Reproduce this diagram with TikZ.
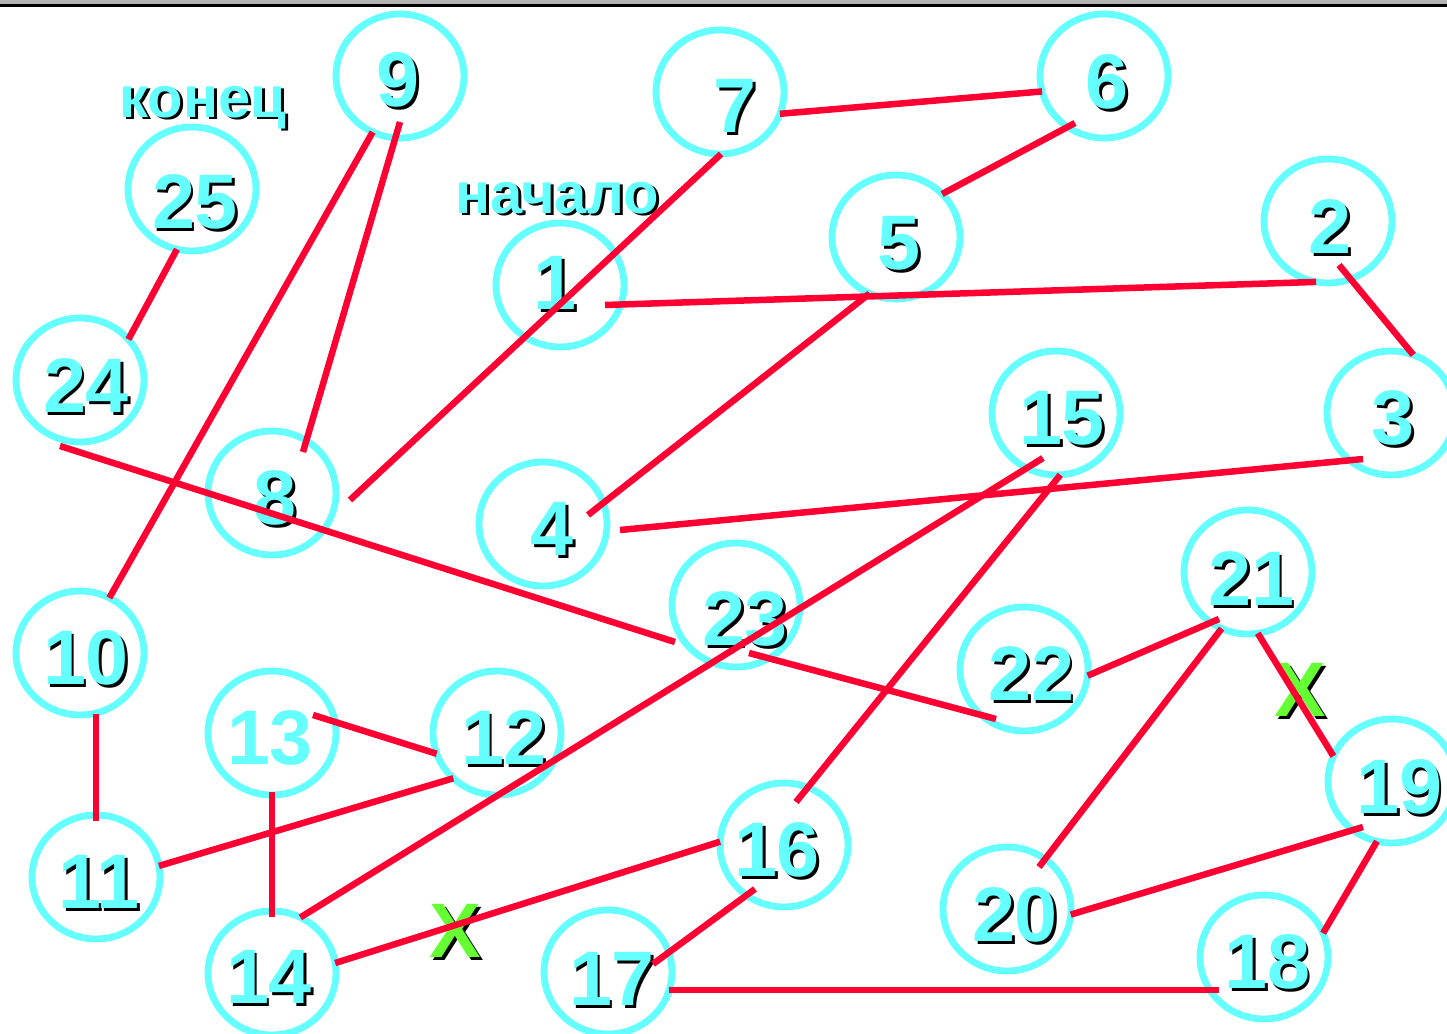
\documentclass[tikz,border=0pt]{standalone}
\usepackage{fontspec}
\setmainfont{Liberation Sans}
\usetikzlibrary{shapes.geometric,calc}
\definecolor{cy}{RGB}{102,255,255}
\definecolor{rd}{RGB}{255,0,51}
\definecolor{gr}{RGB}{102,255,51}
\newcommand{\shtext}[1]{\rlap{\smash{\hspace{1.7pt}\raisebox{-1.7pt}{\color{black}#1}}}#1}
\begin{document}
\begin{tikzpicture}[x=0.02cm, y=-0.02cm]
  \tikzstyle{c}=[draw=cy,ellipse,line width=3.9pt,minimum width=2.56cm,minimum height=2.48cm,inner sep=0pt,outer sep=0pt]
  \tikzstyle{num}=[text=cy,inner sep=0pt,font=\bfseries\fontsize{44}{44}\selectfont]
  \tikzstyle{w}=[text=cy,inner sep=0pt,anchor=base,font=\bfseries\fontsize{33}{33}\selectfont]
  \tikzstyle{xm}=[text=gr,inner sep=0pt,font=\bfseries\fontsize{44}{44}\selectfont]
  \tikzstyle{l}=[draw=rd,line width=3.7pt]
  \useasboundingbox (0,0) rectangle (1447,1034);
  \fill[gray!60] (0,0) rectangle (1447,4);
  \fill[black] (0,4) rectangle (1447,7);
  \node[c] (n1) at (560,285) {};   \node[num] (t1) at (555,283) {\shtext{1}};
  \node[c] (n2) at (1328,221) {};  \node[num] (t2) at (1330,227) {\shtext{2}};
  \node[c] (n3) at (1391,413) {};  \node[num] (t3) at (1393,418) {\shtext{3}};
  \node[c] (n4) at (543,524) {};   \node[num] (t4) at (552,529) {\shtext{4}};
  \node[c] (n5) at (896,237) {};   \node[num] (t5) at (899,243) {\shtext{5}};
  \node[c] (n6) at (1104,76) {};   \node[num] (t6) at (1107,82) {\shtext{6}};
  \node[c] (n7) at (720,92) {};    \node[num] (t7) at (735,106) {\shtext{7}};
  \node[c] (n8) at (272,493) {};   \node[num] (t8) at (275,498) {\shtext{8}};
  \node[c] (n9) at (400,76) {};    \node[num] (t9) at (398,80) {\shtext{9}};
  \node[c] (n10) at (80,653) {};   \node[num] (t10) at (86,658) {\shtext{10}};
  \node[c] (n11) at (96,877) {};   \node[num] (t11) at (99,882) {\shtext{11}};
  \node[c] (n12) at (497,733) {};  \node[num] (t12) at (504,738) {\shtext{12}};
  \node[c] (n13) at (272,733) {};  \node[num] (t13) at (270,738) {13};
  \node[c] (n14) at (272,973) {};  \node[num] (t14) at (269,977) {\shtext{14}};
  \node[c] (n15) at (1056,413) {}; \node[num] (t15) at (1062,418) {\shtext{15}};
  \node[c] (n16) at (784,845) {};  \node[num] (t16) at (777,850) {\shtext{16}};
  \node[c] (n17) at (608,972) {};  \node[num] (t17) at (612,979) {\shtext{17}};
  \node[c] (n18) at (1264,957) {}; \node[num] (t18) at (1267,962) {\shtext{18}};
  \node[c] (n19) at (1392,781) {}; \node[num] (t19) at (1399,787) {\shtext{19}};
  \node[c] (n20) at (1007,909) {}; \node[num] (t20) at (1015,915) {\shtext{20}};
  \node[c] (n21) at (1248,572) {}; \node[num] (t21) at (1251,579) {\shtext{21}};
  \node[c] (n22) at (1024,669) {}; \node[num] (t22) at (1031,674) {\shtext{22}};
  \node[c] (n23) at (736,605) {};  \node[num] (t23) at (745,619) {\shtext{23}};
  \node[c] (n24) at (80,380) {};   \node[num] (t24) at (86,386) {\shtext{24}};
  \node[c] (n25) at (192,189) {};  \node[num] (t25) at (195,202) {\shtext{25}};
  \node[w] (end) at (203,117) {\shtext{конец}};
  \node[w] (start) at (557,213) {\shtext{начало}};
  \node[xm] (x1) at (455,931) {\shtext{X}};
  \node[xm] (x2) at (1300,690) {\shtext{X}};
  \draw[l] ($(n1)+(45,20)$) -- (n2.-101); \draw[l] ($(n2)+(11,44)$) -- (n3.69);
  \draw[l] ($(n3)+(-28,46)$) -- ($(n4)+(77,6)$); \draw[l] ($(n4)+(45,-9)$) -- (n5.-115);
  \draw[l] (n5.43) -- ($(n6)+(-29,47)$); \draw[l] (n6.-166) -- (n7.-20);
  \draw[l] (n7.-89) -- ($(n8)+(78,7)$); \draw[l] ($(n8)+(31,-41)$) -- ($(n9)+(0,46)$);
  \draw[l] (n9.-116) -- (n10.62); \draw[l] ($(n10)+(16,61)$) -- ($(n11)+(0,-56)$);
  \draw[l] (n11.10) -- (n12.-134); \draw[l] (n12.-161) -- ($(n13)+(41,-18)$);
  \draw[l] ($(n13)+(0,59)$) -- ($(n14)+(0,-56)$); \draw[l] (n14.63) -- ($(n15)+(-13,45)$);
  \draw[l] (n15.-86) -- ($(n16)+(12,-43)$); \draw[l] ($(n16)+(-29,44)$) -- ($(n17)+(45,-8)$);
  \draw[l] ($(n17)+(61,18)$) -- ($(n18)+(-45,33)$); \draw[l] (n18.22) -- (n19.-104);
  \draw[l] ($(n19)+(-29,46)$) -- (n20.-5); \draw[l] ($(n20)+(32,-42)$) -- (n21.-115);
  \draw[l] ($(n21)+(-29,47)$) -- (n22.-6); \draw[l] ($(n22)+(-28,50)$) -- ($(n23)+(13,48)$);
  \draw[l] ($(n23)+(-61,37)$) -- ($(n24)+(-20,66)$); \draw[l] (n24.40) -- (n25.-104);
  \draw[l] (n21.-81) -- (n19.157); \draw[l] (n16.177) -- (n14.9);
\end{tikzpicture}
\end{document}
